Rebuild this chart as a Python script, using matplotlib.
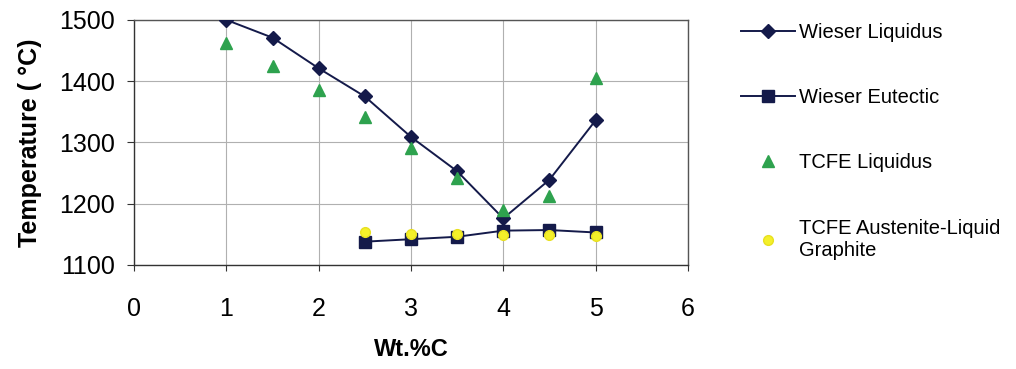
import numpy as np
import matplotlib
matplotlib.use('Agg')
import matplotlib.pyplot as plt

plt.rcParams['font.family'] = ['Liberation Sans', 'DejaVu Sans']

# Data
wt_liq = [1, 1.5, 2, 2.5, 3, 3.5, 4, 4.5, 5]
wieser_liquidus = [1500, 1471, 1421, 1375, 1309, 1253, 1176, 1239, 1336]
tcfe_liquidus = [1462, 1424, 1385, 1342, 1291, 1242, 1190, 1212, 1406]

wt_eut = [2.5, 3, 3.5, 4, 4.5, 5]
wieser_eutectic = [1138, 1142, 1146, 1156, 1157, 1153]
tcfe_austenite = [1153, 1151, 1151, 1149, 1149, 1147]

navy = '#141a4a'

fig = plt.figure(figsize=(10.16, 3.69), dpi=100)
ax = fig.add_axes([0.132, 0.282, 0.545, 0.664])

h1, = ax.plot(wt_liq, wieser_liquidus, color=navy, lw=1.4, marker='D', ms=7,
              mfc=navy, mec=navy, label='Wieser Liquidus', zorder=3)
h2, = ax.plot(wt_eut, wieser_eutectic, color=navy, lw=1.4, marker='s', ms=9,
              mfc=navy, mec=navy, label='Wieser Eutectic', zorder=3)
h3, = ax.plot(wt_liq, tcfe_liquidus, ls='none', marker='^', ms=9,
              mfc='#2ea24e', mec='#2ea24e', label='TCFE Liquidus', zorder=4)
h4, = ax.plot(wt_eut, tcfe_austenite, ls='none', marker='o', ms=7,
              mfc='#f4f02a', mec='#e8e020',
              label='TCFE Austenite-Liquid\nGraphite', zorder=5)

ax.set_xlim(0, 6)
ax.set_ylim(1100, 1500)
ax.set_xticks(range(0, 7))
ax.set_yticks(range(1100, 1501, 100))
ax.grid(True, color='#b0b0b0', lw=0.8)
ax.set_axisbelow(True)

for side in ['top', 'right']:
    ax.spines[side].set_color('#555555')
    ax.spines[side].set_linewidth(1.0)
for side in ['left', 'bottom']:
    ax.spines[side].set_color('#333333')
    ax.spines[side].set_linewidth(1.0)

ax.tick_params(axis='x', labelsize=18, pad=19, length=4, color='#333333')
ax.tick_params(axis='y', labelsize=18, pad=9, length=5, color='#333333')

ax.set_xlabel('Wt.%C', fontsize=17, fontweight='bold', labelpad=12)
ax.set_ylabel('Temperature ( °C)', fontsize=18, fontweight='bold', labelpad=12)

fig.legend(handles=[h1, h2, h3, h4], loc='upper left',
           bbox_to_anchor=(0.721, 0.960), frameon=False, fontsize=14.5,
           handlelength=2.7, handletextpad=0.2, labelspacing=2.3,
           borderaxespad=0)

fig.savefig('out.png', dpi=100)
